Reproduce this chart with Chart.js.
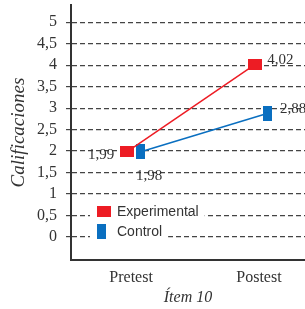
<!DOCTYPE html>
<html>
<head>
<meta charset="utf-8">
<script src="https://cdn.jsdelivr.net/npm/chart.js@4.4.1/dist/chart.umd.min.js"></script>
<style>
  html, body { margin: 0; padding: 0; background: #fff; overflow: hidden; }
  #wrap { width: 305px; height: 309px; }
</style>
</head>
<body>
<div id="wrap"><canvas id="chart" width="305" height="309"></canvas></div>
<script>
// ---------- data ----------
const categories = ['Pretest', 'Postest'];
const seriesNames = ['Experimental', 'Control'];
const experimental = [1.99, 4.02];
const control = [1.98, 2.88];
const yTicks = [0, 0.5, 1, 1.5, 2, 2.5, 3, 3.5, 4, 4.5, 5];

// ---------- style ----------
const RED = '#ed1c24';
const BLUE = '#0a6fc0';
const INK = '#333333';
const SERIF = '"Liberation Serif", "DejaVu Serif", serif';
const SANS = '"Liberation Sans", Arial, sans-serif';

// small horizontal dodge so the two markers sit side by side
const DODGE = { exp: -0.03, ctrl: 0.07 };

// marker images (rectangles, not squares)
function makeMarker(w, h, color) {
  const c = document.createElement('canvas');
  c.width = w; c.height = h;
  const g = c.getContext('2d');
  g.fillStyle = color;
  g.fillRect(0, 0, w, h);
  return c;
}
const redMark = makeMarker(14, 11, RED);
const blueMark = makeMarker(9, 15, BLUE);

const fmt = (v) => String(v).replace('.', ',');

// label placement next to each point
const labelPlace = [['left', 'right'], ['below', 'right']];

const dataLabels = {
  id: 'dataLabels',
  afterDatasetsDraw(chart) {
    const ctx = chart.ctx;
    ctx.save();
    ctx.font = '15px ' + SERIF;
    ctx.fillStyle = INK;
    chart.data.datasets.forEach((ds, di) => {
      const meta = chart.getDatasetMeta(di);
      meta.data.forEach((pt, i) => {
        const txt = fmt(ds.data[i].y);
        const where = labelPlace[di][i];
        if (where === 'left') {
          ctx.textAlign = 'right'; ctx.textBaseline = 'middle';
          ctx.fillText(txt, pt.x - 13, pt.y + 4);
        } else if (where === 'right') {
          ctx.textAlign = 'left'; ctx.textBaseline = 'middle';
          ctx.fillText(txt, pt.x + 12, pt.y - 4);
        } else {
          ctx.textAlign = 'left'; ctx.textBaseline = 'middle';
          ctx.fillText(txt, pt.x - 4, pt.y + 24);
        }
      });
    });
    ctx.restore();
  }
};

// legend drawn inside the plot, each item on a white patch
const innerLegend = {
  id: 'innerLegend',
  afterDraw(chart) {
    const ctx = chart.ctx;
    const items = [
      { mark: redMark, text: seriesNames[0], y: 211 },
      { mark: blueMark, text: seriesNames[1], y: 231 },
    ];
    ctx.save();
    ctx.font = '14px ' + SANS;
    items.forEach((it) => {
      const tw = ctx.measureText(it.text).width;
      ctx.fillStyle = '#fff';
      ctx.fillRect(90, it.y - 9, 117 + tw + 6 - 90, 18);
      ctx.drawImage(it.mark, 97, it.y - it.mark.height / 2);
      ctx.fillStyle = INK;
      ctx.textAlign = 'left';
      ctx.textBaseline = 'middle';
      ctx.fillText(it.text, 117, it.y + 1);
    });
    ctx.restore();
  }
};

// drop the automatic edge padding the scales ask for
function noPad(s) {
  s.paddingTop = 0; s.paddingBottom = 0;
  s.paddingLeft = 0; s.paddingRight = 0;
}

new Chart(document.getElementById('chart'), {
  type: 'line',
  data: {
    datasets: [
      {
        label: seriesNames[0],
        data: experimental.map((v, i) => ({ x: i + DODGE.exp, y: v })),
        borderColor: RED,
        borderWidth: 1.5,
        pointStyle: redMark,
        pointRadius: 7,
      },
      {
        label: seriesNames[1],
        data: control.map((v, i) => ({ x: i + DODGE.ctrl, y: v })),
        borderColor: BLUE,
        borderWidth: 1.5,
        pointStyle: blueMark,
        pointRadius: 7,
      },
    ],
  },
  options: {
    animation: false,
    responsive: false,
    layout: { autoPadding: false, padding: { top: 5, right: 0, left: 0, bottom: 0 } },
    plugins: {
      legend: { display: false },
      tooltip: { enabled: false },
    },
    scales: {
      x: {
        type: 'linear',
        min: -0.47,
        max: 1.36,
        afterBuildTicks: (s) => { s.ticks = categories.map((c, i) => ({ value: i })); },
        afterFit: (s) => { s.height = 49; noPad(s); },
        ticks: {
          callback: (v) => categories[v] ?? '',
          color: INK,
          font: { family: SERIF, size: 16 },
          padding: 8,
          maxRotation: 0,
        },
        grid: { display: false, drawTicks: false },
        border: { display: true, color: INK, width: 2 },
        title: {
          display: true,
          text: 'Ítem 10',
          color: INK,
          font: { family: SERIF, size: 16, style: 'italic' },
          padding: { top: 0, bottom: 2 },
        },
      },
      y: {
        min: -0.535,
        max: 5.4,
        afterBuildTicks: (s) => { s.ticks = yTicks.map((v) => ({ value: v })); },
        afterFit: (s) => { s.width = 71; noPad(s); },
        ticks: {
          callback: (v) => fmt(v),
          color: INK,
          font: { family: SERIF, size: 16 },
          padding: 9,
        },
        grid: {
          color: '#444',
          lineWidth: 1.2,
          tickLength: 5,
          tickColor: '#444',
          tickBorderDash: [5, 3],
        },
        border: { display: true, color: INK, width: 2, dash: [5, 3] },
        title: {
          display: true,
          text: 'Calificaciones',
          color: INK,
          font: { family: SERIF, size: 19, style: 'italic' },
          padding: { top: 8, bottom: 0 },
        },
      },
    },
  },
  plugins: [dataLabels, innerLegend],
});
</script>
</body>
</html>
